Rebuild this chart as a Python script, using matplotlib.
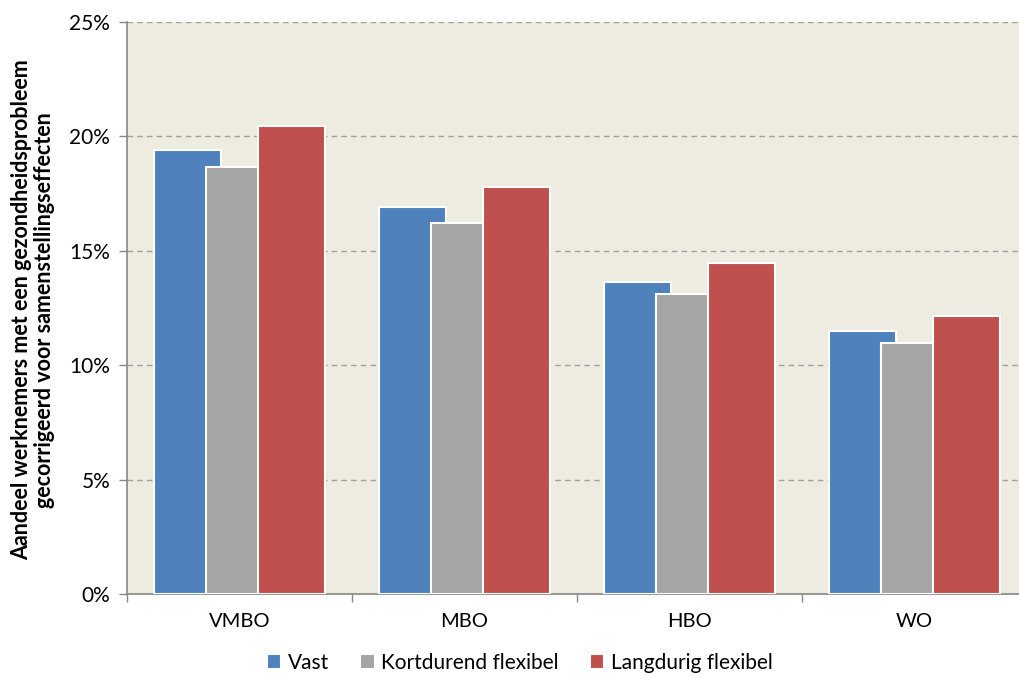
import matplotlib
matplotlib.use("Agg")
import matplotlib.pyplot as plt
import numpy as np
from matplotlib.ticker import FuncFormatter, MultipleLocator

categories = ["VMBO", "MBO", "HBO", "WO"]
series_names = ["Vast", "Kortdurend flexibel", "Langdurig flexibel"]
vast = [19.4, 16.9, 13.65, 11.5]
kortdurend = [18.65, 16.2, 13.1, 10.95]
langdurig = [20.45, 17.8, 14.45, 12.15]
colors = ["#4F81BD", "#A5A5A5", "#C0504D"]

plt.rcParams['font.family'] = ['Lato', 'DejaVu Sans']

fig = plt.figure(figsize=(10.19, 6.77), dpi=100)
ax = fig.add_axes([127/1019, 1-594/677, 900/1019, (594-22)/677])
ax.set_facecolor("#EEECE1")

x = np.arange(len(categories))
width = 0.30
step = 0.232
for i, (vals, name, c) in enumerate(zip([vast, kortdurend, langdurig], series_names, colors)):
    ax.bar(x + (i-1)*step, vals, width=width, color=c, edgecolor="white",
           linewidth=1.5, label=name, zorder=3+i)

ax.set_xlim(-0.5, len(categories)-0.5)
ax.set_ylim(0, 25)
ax.yaxis.set_major_locator(MultipleLocator(5))
ax.yaxis.set_major_formatter(FuncFormatter(lambda v, p: f"{v:.0f}%"))
ax.grid(axis='y', color="#A0A0A0", linestyle=(0, (4, 3)), linewidth=1, zorder=1)
ax.set_axisbelow(True)

ax.set_xticks(x)
ax.set_xticklabels(categories, fontsize=14.5)
ax.set_xticks(np.arange(-0.5, len(categories)), minor=True)
ax.tick_params(axis='x', which='major', length=0, pad=14)
ax.tick_params(axis='x', which='minor', length=6, color="#888888", width=1)
ax.tick_params(axis='y', length=6, color="#888888", width=1, labelsize=15, pad=6)

for s in ["top", "right"]:
    ax.spines[s].set_visible(False)
for s in ["left", "bottom"]:
    ax.spines[s].set_color("#888888")
    ax.spines[s].set_linewidth(1.2)

fig.text(33/1019, 1-310/677,
         "Aandeel werknemers met een gezondheidsprobleem\ngecorrigeerd voor samenstellingseffecten",
         rotation=90, ha='center', va='center', fontsize=15.5, fontweight='bold',
         linespacing=1.1)

handles, labels = ax.get_legend_handles_labels()
leg = fig.legend(handles, labels, loc='center', bbox_to_anchor=(0.51, 1-663/677), ncol=3,
                 frameon=False, fontsize=15, handlelength=0.7, handleheight=0.7,
                 handletextpad=0.3, columnspacing=1.5)

fig.savefig("out.png", dpi=100)
